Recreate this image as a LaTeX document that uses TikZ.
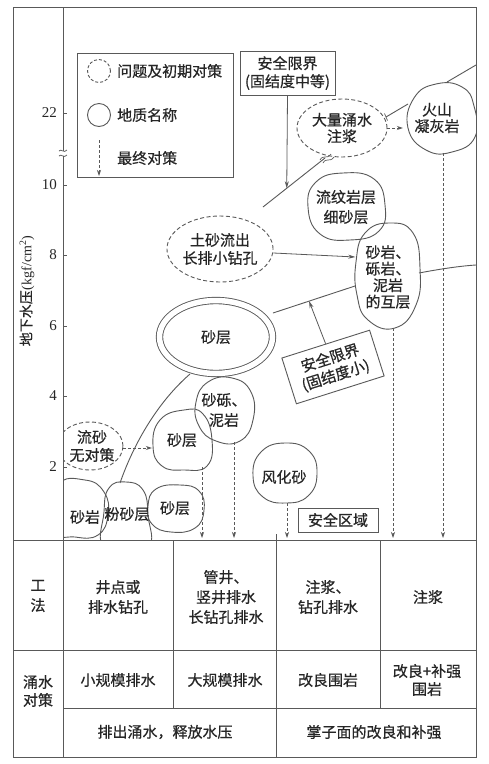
\documentclass[tikz,border=0pt]{standalone}
\usepackage{fontspec}
\setmainfont{Liberation Serif}
\newfontfamily\cjk[FakeBold=0.6]{Noto Sans CJK SC}
\usetikzlibrary{shapes.geometric,arrows.meta,calc}
\definecolor{lc}{gray}{0.35}
\definecolor{tc}{gray}{0.15}
\tikzset{
  ln/.style={draw=lc, line width=0.9pt},
  blobline/.style={draw=lc, line width=0.9pt},
  dashell/.style={ellipse, draw=lc, line width=0.9pt, dash pattern=on 4pt off 2.5pt, inner sep=0pt},
  txt/.style={font=\cjk\fontsize{15}{18}\selectfont, text=tc, align=center, inner sep=0pt},
  tight/.style={font=\cjk\fontsize{15}{16.5}\selectfont},
  wide/.style={font=\cjk\fontsize{15}{20}\selectfont},
  hold/.style={ellipse, inner sep=0pt},
  finarrow/.style={draw=lc, line width=0.8pt, dash pattern=on 3pt off 2pt, -{Stealth[length=6pt,width=4pt]}},
  solidarrow/.style={draw=lc, line width=0.8pt, -{Stealth[length=7pt,width=4pt]}},
  tick/.style={draw=lc, line width=0.8pt},
  num/.style={font=\fontsize{15}{15}\selectfont, text=tc, inner sep=0pt, anchor=east},
  labelbox/.style={draw=lc, line width=0.9pt, inner sep=0pt}
}
\begin{document}
\begin{tikzpicture}[x=1pt, y=-1pt]
\useasboundingbox (0,0) rectangle (488,764);
\fill[white] (0,0) rectangle (488,764);

% frame and grid
\draw[ln, line width=1pt] (13,7) rectangle (476,757);
\draw[ln] (63,7) -- (63,757);
\draw[ln] (13,540) -- (476,540);
\draw[ln] (13,650) -- (476,650);
\draw[ln] (63,708) -- (476,708);
\draw[ln] (173,540) -- (173,708);
\draw[ln] (276,534) -- (276,757);
\draw[ln] (380,540) -- (380,708);

% axis ticks and labels
\foreach \v/\yy in {22/113,10/185,8/255,6/326,4/396,2/467}{
  \draw[tick] (63,\yy) -- (67,\yy);
  \node[num] at (57,\yy) {\v};
}
% axis break
\fill[white] (60,150.5) rectangle (67,155.5);
\draw[tick, line width=0.7pt] (59,151) .. controls (61,148) and (64,154) .. (67,150);
\draw[tick, line width=0.7pt] (59,156) .. controls (61,153) and (64,159) .. (67,155);
\node[txt, rotate=90, font=\cjk\fontsize{14}{14}\selectfont] (ylab) at (27,291)
  {地下水压{\rmfamily(kgf/cm\textsuperscript{2})}};

% legend
\node[labelbox, minimum width=156pt, minimum height=124pt] (legend) at (155,115) {};
\node[circle, draw=lc, line width=0.9pt, dash pattern=on 3pt off 2pt, minimum size=23pt, inner sep=0pt] (lgq) at (99,71) {};
\node[txt, anchor=west] (lgqt) at (117,71) {问题及初期对策};
\node[circle, draw=lc, line width=0.9pt, minimum size=23pt, inner sep=0pt] (lgg) at (99,115) {};
\node[txt, anchor=west] (lggt) at (117,115) {地质名称};
\coordinate (lga) at (99,140);
\coordinate (lgb) at (99,176);
\draw[finarrow] (lga) -- (lgb);
\node[txt, anchor=west] (lgft) at (117,158) {最终对策};

% limit boxes
\node[txt, labelbox, minimum width=95pt, minimum height=44pt] (lim1) at (287.5,73) {安全限界\\(固结度中等)};
\node[txt, labelbox, rotate=17.6, minimum width=92pt, minimum height=48pt] (lim2) at (333,367) {安全限界\\(固结度小)};
\node[txt, labelbox, minimum width=80pt, minimum height=24pt] (safe) at (338,520) {安全区域};

% blob outlines
\begin{scope}
\clip (63,7) rectangle (476,540);
\draw[blobline] plot[smooth cycle, tension=0.8] coordinates {(408,128) (414,98) (436,84) (462,87) (474,106) (475,137) (452,152) (426,150)};
\draw[blobline] plot[smooth cycle, tension=0.8] coordinates {(308,207) (316,182) (343,173) (374,179) (385,205) (379,231) (350,240) (320,234)};
\draw[blobline] plot[smooth cycle, tension=0.8] coordinates {(356,262) (365,233) (390,223) (413,233) (420,268) (416,305) (395,328) (368,320) (357,295)};
\draw[blobline] plot[smooth cycle, tension=0.8] coordinates {(196,402) (208,382) (232,378) (251,392) (253,420) (240,441) (216,441) (199,426)};
\draw[blobline] plot[smooth cycle, tension=0.8] coordinates {(153,446) (160,420) (184,410) (203,414) (212,440) (207,466) (184,470) (162,466)};
\draw[blobline] plot[smooth cycle, tension=0.8] coordinates {(253,476) (261,452) (285,443) (309,451) (317,474) (308,496) (286,503) (263,497)};
\draw[blobline] plot[smooth cycle, tension=0.8] coordinates {(58,486) (85,480) (104,492) (108,515) (98,535) (75,537) (56,530)};
\draw[blobline] plot[smooth cycle, tension=0.8] coordinates {(104,512) (109,488) (126,482) (143,490) (148,515) (147,548) (105,548)};
\draw[blobline] plot[smooth cycle, tension=0.8] coordinates {(148,506) (156,489) (180,485) (199,491) (204,510) (195,528) (171,532) (152,524)};
\end{scope}

% geology nodes (text)
\node[txt, hold, tight, minimum width=68pt, minimum height=70pt] (tuff) at (437,118) {火山\\凝灰岩};
\node[txt, hold, wide, minimum width=78pt, minimum height=67pt] (rhyo) at (346,207) {流纹岩层\\细砂层};
\node[txt, hold, tight, minimum width=65pt, minimum height=105pt] (inter) at (388,277) {砂岩、\\砾岩、\\泥岩\\的互层};
\node[txt, hold, wide, minimum width=58pt, minimum height=64pt] (gravel) at (224,410) {砂砾、\\泥岩};
\node[txt, hold, minimum width=60pt, minimum height=60pt] (sand2) at (182,440) {砂层};
\node[txt, hold, minimum width=65pt, minimum height=60pt] (weath) at (284,477) {风化砂};
\node[txt] (sst) at (85,517) {砂岩};
\node[txt] (silt) at (127,514) {粉砂层};
\node[txt] (sand3) at (175,508) {砂层};
\node[txt, ellipse, draw=lc, line width=0.9pt, double, double distance=5.5pt, minimum width=113pt, minimum height=73pt] (sand1) at (216,337) {砂层};

% problem nodes (dashed)
\node[txt, dashell, tight, minimum width=90pt, minimum height=58pt] (flood) at (342,128) {大量涌水\\注浆};
\node[txt, dashell, minimum width=100pt, minimum height=66pt] (soil) at (220,249) {土砂流出\\长排小钻孔};
\begin{scope}
\clip (63,400) rectangle (200,500);
\node[txt, dashell, minimum width=66pt, minimum height=48pt] (qs) at (90,446) {\phantom{无对策}};
\end{scope}
\node[txt] (qst) at (92,446) {流砂\\无对策};

% boundary lines
\coordinate (A1) at (263,207);
\coordinate (A2) at (325,158);
\draw[ln] (A1) -- (A2);
\draw[ln, line width=0.7pt] (320,160) .. controls (323,154) and (327,160) .. (331,154);
\draw[ln, line width=0.7pt] (323,163) .. controls (326,157) and (330,163) .. (334,157);
\coordinate (A4) at (386,117);
\coordinate (A5) at (408,104);
\draw[ln] (A4) -- (A5);
\draw[ln, line width=0.7pt] (384.5,113.5) -- (387.5,120.5);
\coordinate (A6) at (447,82);
\coordinate (A7) at (476,65);
\draw[ln] (A6) -- (A7);

\coordinate (B1) at (273,313);
\coordinate (B2) at (355,286);
\draw[ln] (B1) -- (B2);
\coordinate (B3) at (419,273);
\coordinate (B4) at (476,265);
\draw[ln] (B3) .. controls (440,269) and (460,266) .. (B4);

\coordinate (C1) at (120,483);
\coordinate (C2) at (190,374);
\draw[ln] (C1) .. controls (135,440) and (160,400) .. (C2);

% arrows from limit boxes
\draw[solidarrow] (lim1.south) -- ($(A1)!0.383!(A2)$);
\draw[solidarrow] (lim2.north) -- ($(B1)!0.44!(B2)$);

% problem -> geology arrows
\draw[solidarrow] (soil.east |- 0,253) -- (inter.west |- 0,257);
\draw[finarrow] (qs.east |- 0,448) -- (sand2.west |- 0,448);
\draw[finarrow] (flood.east |- 0,128) -- (tuff.west |- 0,128);

% final countermeasure arrows
\foreach \nm/\xx/\ys in {sand2/202/467, gravel/234/442, weath/287/503, inter/393/328, tuff/443/153}{
  \coordinate (e\nm) at (\xx,538);
  \draw[finarrow] (\xx,\ys) -- (e\nm);
}

% table text
\node[txt, wide] (t00) at (38,596) {工\\法};
\node[txt, wide] (t01) at (118,597) {井点或\\排水钻孔};
\node[txt, wide] (t02) at (226,597) {管井、\\竖井排水\\长钻孔排水};
\node[txt, wide] (t03) at (328,597) {注浆、\\钻孔排水};
\node[txt, wide] (t04) at (428,597) {注浆};
\node[txt] (t10) at (38,691) {涌水\\对策};
\node[txt] (t11) at (118,680) {小规模排水};
\node[txt] (t12) at (225,680) {大规模排水};
\node[txt] (t13) at (328,680) {改良围岩};
\node[txt] (t14) at (427,680) {改良+补强\\围岩};
\node[txt] (t21) at (165,732) {排出涌水，释放水压};
\node[txt] (t22) at (374,732) {掌子面的改良和补强};
\end{tikzpicture}
\end{document}
